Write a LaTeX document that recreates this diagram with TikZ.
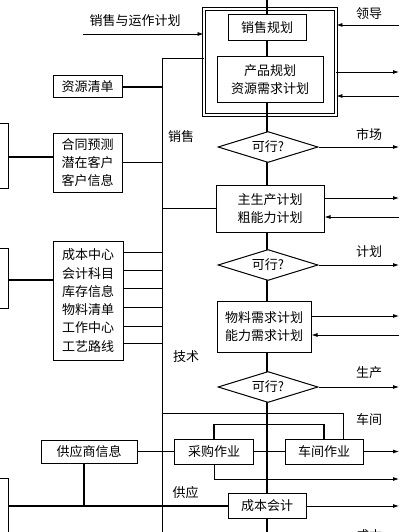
\documentclass[tikz,border=0pt]{standalone}
\usepackage{fontspec}
\setmainfont{Noto Sans CJK SC}
\usetikzlibrary{shapes.geometric,arrows.meta}
\begin{document}
\begin{tikzpicture}[x=1pt,y=-1pt,
  every node/.style={font=\fontsize{13}{18}\selectfont},
  box/.style={draw,line width=1pt,fill=white,inner sep=0pt,align=center},
  dia/.style={draw,line width=1pt,fill=white,diamond,aspect=3.2,inner sep=0pt,minimum width=100pt,minimum height=31pt},
  lbl/.style={inner sep=0pt},
  mainln/.style={line width=1.6pt},
  thinln/.style={line width=0.8pt},
  thickln/.style={line width=1.6pt},
  arr/.style={line width=0.8pt,-{Latex[length=6pt,width=4pt]}}
]
\useasboundingbox (0,0) rectangle (400,532);
% double box and main line
\node[draw,double,double distance=1.5pt,line width=0.9pt,inner sep=0pt,minimum width=132pt,minimum height=106pt] (dbl) at (270,62) {};
\coordinate (top) at (267,-2);
\coordinate (bot) at (267,540);
\draw[mainln] (top) -- (bot);
% bus
\coordinate (bustop) at (162,58);
\coordinate (busbot) at (162,540);
\draw[thinln] (busbot) -- (bustop) -- (bustop -| dbl.west);
% right-column nodes
\node[box,minimum width=78pt,minimum height=26pt] (xsgh) at (267,28) {销售规划};
\node[box,minimum width=106pt,minimum height=46pt] (cpgh) at (270,80) {产品规划\\资源需求计划};
\node[dia] (d1) at (268,147) {可行?};
\node[box,minimum width=108pt,minimum height=47pt] (zsc) at (270,208.5) {主生产计划\\粗能力计划};
\node[dia] (d2) at (268,265) {可行?};
\node[box,minimum width=94pt,minimum height=51pt] (wl) at (264,326.5) {物料需求计划\\能力需求计划};
\node[dia] (d3) at (268,387) {可行?};
\node[box,minimum width=79pt,minimum height=25pt] (cg) at (214,451.5) {采购作业};
\node[box,minimum width=78pt,minimum height=25pt] (cj) at (324,451.5) {车间作业};
\node[box,minimum width=78pt,minimum height=25pt] (cbkj) at (267,505.5) {成本会计};
% left nodes
\node[box,minimum width=69pt,minimum height=22pt] (zyqd) at (87.5,87) {资源清单};
\node[box,minimum width=69pt,minimum height=59pt] (htyc) at (87.5,162.5) {合同预测\\潜在客户\\客户信息};
\node[box,minimum width=70pt,minimum height=119pt,font=\fontsize{13}{18.3}\selectfont] (cbzx) at (88,300.5) {成本中心\\会计科目\\库存信息\\物料清单\\工作中心\\工艺路线};
\node[box,minimum width=96pt,minimum height=23pt] (gys) at (89,451.5) {供应商信息};
\node[box,minimum width=40pt,minimum height=65pt] (L1) at (-12,155.5) {};
\node[box,minimum width=40pt,minimum height=60pt] (L2) at (-12,278) {};
\node[box,minimum width=40pt,minimum height=80pt] (L3) at (-12,518) {};
% top arrow
\coordinate (tl) at (83,34);
\draw[arr] (tl) -- (tl -| dbl.west);
\node[lbl] (t0) at (135,21) {销售与运作计划};
% left connectors
\draw[thickln] (zyqd.east) -- (zyqd.east -| bustop);
\draw[thickln] (htyc.east) -- (htyc.east -| bustop);
\draw[thickln] (L1.east |- 0,157) -- (htyc.west |- 0,157);
\draw[thickln] (L2.east |- 0,280) -- (cbzx.west |- 0,280);
\foreach \yy in {252,270,288,307,326,343}{
  \draw[thinln] (cbzx.east |- 0,\yy) -- (bustop |- 0,\yy);
}
\draw[thinln] (bustop |- zsc.west) -- (zsc.west);
% production junction
\coordinate (cjn) at (343,413);
\draw[thinln] (bustop |- cjn) -- (cjn) -- (cjn |- cj.north);
\draw[thickln] (cg.north) -- ++(0,-14) -| (cj.north);
\draw[thickln] (cg.east) -- (cj.west);
\draw[thinln] (gys.east) -- (cg.west);
\coordinate (jn) at (84,506);
\draw[thickln] (gys.south -| jn) -- (jn);
\draw[thickln] (L3.east |- jn) -- (cbkj.west |- jn);
% right arrows
\coordinate (rx) at (399,0);
\draw[arr] (rx |- 0,25) -- (dbl.east |- 0,25);
\draw[arr] (dbl.east |- 0,72) -- (rx |- 0,72);
\draw[arr] (rx |- 0,96) -- (dbl.east |- 0,96);
\draw[arr] (d1.east) -- (rx |- d1.east);
\draw[arr] (zsc.east |- 0,198) -- (rx |- 0,198);
\draw[arr] (rx |- 0,217) -- (zsc.east |- 0,217);
\draw[arr] (d2.east) -- (rx |- d2.east);
\draw[arr] (wl.east |- 0,316) -- (rx |- 0,316);
\draw[arr] (rx |- 0,335) -- (wl.east |- 0,335);
\draw[arr] (d3.east) -- (rx |- d3.east);
\draw[arr] (cj.east) -- (rx |- cj.east);
\draw[arr] (cg.south) |- (rx |- 0,479);
\draw[arr] (cbkj.east |- jn) -- (rx |- jn);
% labels
\node[lbl] (l1) at (369,14) {领导};
\node[lbl] (l2) at (369,135) {市场};
\node[lbl] (l3) at (369,252) {计划};
\node[lbl] (l4) at (369,373) {生产};
\node[lbl] (l5) at (369,420) {车间};
\node[lbl] (l6) at (369,536) {成本};
\node[lbl] (l7) at (181,137) {销售};
\node[lbl] (l8) at (186,357) {技术};
\node[lbl] (l9) at (185.5,493) {供应};
\end{tikzpicture}
\end{document}
